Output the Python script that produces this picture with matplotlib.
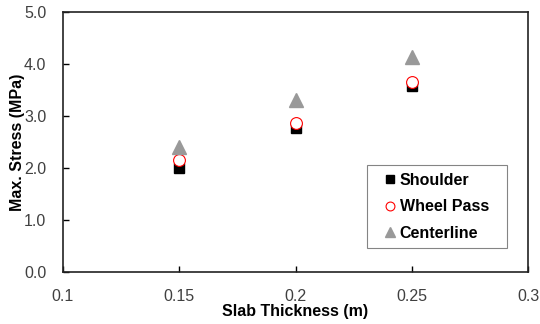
import matplotlib
matplotlib.use("Agg")
import matplotlib.pyplot as plt

plt.rcParams["font.family"] = ["Liberation Sans", "DejaVu Sans"]

thickness = [0.15, 0.20, 0.25]
shoulder = [2.00, 2.76, 3.57]
wheel_pass = [2.15, 2.87, 3.66]
centerline = [2.40, 3.31, 4.14]

fig = plt.figure(figsize=(5.4, 3.24), dpi=100)
ax = fig.add_axes([63 / 540, 1 - 272 / 324, 465 / 540, 260 / 324])

ax.plot(thickness, shoulder, ls="none", marker="s", ms=7.5, color="black",
        label="Shoulder")
ax.plot(thickness, wheel_pass, ls="none", marker="o", ms=8.5, mfc="white",
        mec="red", mew=0.8, label="Wheel Pass")
ax.plot(thickness, centerline, ls="none", marker="^", ms=10, color="#999999",
        label="Centerline")

ax.set_xlim(0.1, 0.3)
ax.set_ylim(0, 5)
ax.set_xticks([0.1, 0.15, 0.2, 0.25, 0.3])
ax.set_xticklabels(["0.1", "0.15", "0.2", "0.25", "0.3"])
ax.set_yticks([0, 1, 2, 3, 4, 5])
ax.set_yticklabels([f"{v:.1f}" for v in [0, 1, 2, 3, 4, 5]])
ax.tick_params(direction="in", length=4, width=1, labelsize=11.5,
               labelcolor="#404040")
ax.tick_params(axis="x", pad=12)
ax.tick_params(axis="y", pad=12)
for s in ax.spines.values():
    s.set_linewidth(1.2)
    s.set_color("#222222")

ax.set_xlabel("Slab Thickness (m)", fontsize=11.5, fontweight="bold",
              labelpad=0)
ax.set_ylabel("Max. Stress (MPa)", fontsize=11.5, fontweight="bold",
              labelpad=-1)

# legend box spans a fixed region of the axes
leg = ax.legend(loc="lower left", bbox_to_anchor=(0.654, 0.092, 0.301, 0.3),
                mode="expand", borderaxespad=0, frameon=True, fancybox=False,
                edgecolor="#666666", handletextpad=-0.4, handlelength=2.0,
                borderpad=0.45, labelspacing=0.73, markerscale=0.75,
                prop={"weight": "bold", "size": 11.5})
leg.get_frame().set_linewidth(0.8)

fig.savefig("out.png", dpi=100)
